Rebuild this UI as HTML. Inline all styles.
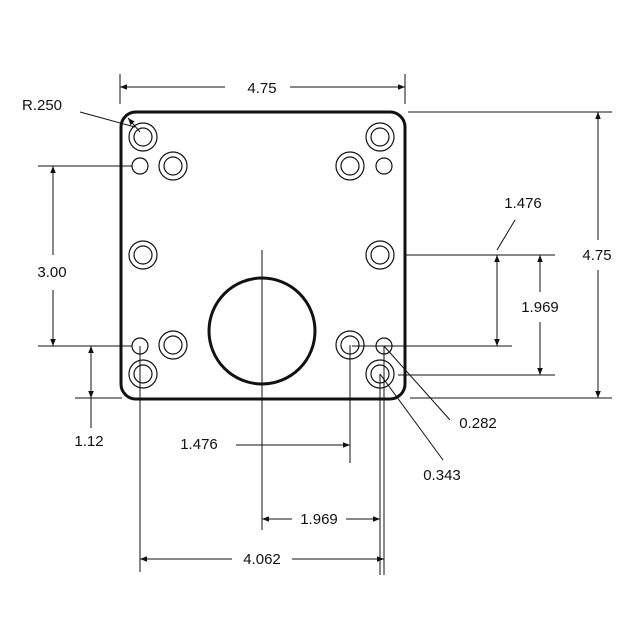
<!DOCTYPE html>
<html><head><style>body{margin:0;background:#fff}svg{display:block}text{font-family:"Liberation Sans",sans-serif;font-size:15px;fill:#111}</style></head><body>
<svg width="640" height="640" viewBox="0 0 640 640">
<defs><marker id="a" viewBox="0 0 10 10" refX="10" refY="5" markerWidth="7" markerHeight="7" orient="auto-start-reverse"><path d="M0,1 L10,5 L0,9 z" fill="#111"/></marker></defs>
<rect x="121" y="112" width="284" height="287" rx="15" fill="none" stroke="#111" stroke-width="3"/>
<g fill="none" stroke="#111" stroke-width="1.2">
<circle cx="143" cy="137" r="14"/><circle cx="143" cy="137" r="9"/>
<circle cx="380" cy="137" r="14"/><circle cx="380" cy="137" r="9"/>
<circle cx="173" cy="166" r="14"/><circle cx="173" cy="166" r="9"/>
<circle cx="350" cy="166" r="14"/><circle cx="350" cy="166" r="9"/>
<circle cx="140" cy="166" r="8"/><circle cx="384" cy="166" r="8"/>
<circle cx="143" cy="255" r="14"/><circle cx="143" cy="255" r="9"/>
<circle cx="380" cy="255" r="14"/><circle cx="380" cy="255" r="9"/>
<circle cx="173" cy="345" r="14"/><circle cx="173" cy="345" r="9"/>
<circle cx="350" cy="345" r="14"/><circle cx="350" cy="345" r="9"/>
<circle cx="140" cy="346" r="8"/><circle cx="384" cy="346" r="8"/>
<circle cx="143" cy="374" r="14"/><circle cx="143" cy="374" r="9"/>
<circle cx="380" cy="374" r="14"/><circle cx="380" cy="374" r="9"/>
</g>
<circle cx="262" cy="331" r="53" fill="none" stroke="#111" stroke-width="3"/>
<g fill="none" stroke="#111" stroke-width="1">
<line x1="120" y1="74" x2="120" y2="104"/><line x1="405" y1="74" x2="405" y2="104"/>
<line x1="120" y1="87" x2="225" y2="87" marker-start="url(#a)"/><line x1="290" y1="87" x2="405" y2="87" marker-end="url(#a)"/>
<line x1="408" y1="112" x2="612" y2="112"/><line x1="410" y1="398" x2="612" y2="398"/>
<line x1="598" y1="112" x2="598" y2="240" marker-start="url(#a)"/><line x1="598" y1="270" x2="598" y2="398" marker-end="url(#a)"/>
<line x1="405" y1="255" x2="555" y2="255"/><line x1="398" y1="375" x2="555" y2="375"/>
<line x1="540" y1="255" x2="540" y2="292" marker-start="url(#a)"/><line x1="540" y1="322" x2="540" y2="375" marker-end="url(#a)"/>
<line x1="352" y1="346" x2="512" y2="346"/>
<line x1="497" y1="255" x2="497" y2="346" marker-start="url(#a)" marker-end="url(#a)"/>
<line x1="497" y1="250" x2="515" y2="220"/>
<line x1="38" y1="166" x2="132" y2="166"/><line x1="38" y1="346" x2="132" y2="346"/>
<line x1="53" y1="166" x2="53" y2="255" marker-start="url(#a)"/><line x1="53" y1="290" x2="53" y2="346" marker-end="url(#a)"/>
<line x1="75" y1="398" x2="122" y2="398"/>
<line x1="91" y1="346" x2="91" y2="428" marker-start="url(#a)"/>
<line x1="91" y1="346" x2="91" y2="398" marker-end="url(#a)"/>
<line x1="262" y1="250" x2="262" y2="530"/>
<line x1="350" y1="345" x2="350" y2="463"/>
<line x1="236" y1="445" x2="350" y2="445" marker-end="url(#a)"/>
<line x1="262" y1="519" x2="292" y2="519" marker-start="url(#a)"/><line x1="346" y1="519" x2="380" y2="519" marker-end="url(#a)"/>
<line x1="380" y1="374" x2="380" y2="575"/><line x1="384" y1="346" x2="384" y2="575"/>
<line x1="140" y1="346" x2="140" y2="572"/>
<line x1="140" y1="559" x2="232" y2="559" marker-start="url(#a)"/><line x1="292" y1="559" x2="384" y2="559" marker-end="url(#a)"/>
<line x1="384" y1="346" x2="450" y2="420"/><line x1="380" y1="374" x2="443" y2="460"/>
<line x1="80" y1="112" x2="135" y2="127"/><line x1="128" y1="118" x2="140" y2="132" marker-start="url(#a)"/>
</g>
<text x="262" y="93" text-anchor="middle">4.75</text>
<text x="597" y="260" text-anchor="middle">4.75</text>
<text x="540" y="312" text-anchor="middle">1.969</text>
<text x="523" y="208" text-anchor="middle">1.476</text>
<text x="52" y="277" text-anchor="middle">3.00</text>
<text x="89" y="446" text-anchor="middle">1.12</text>
<text x="199" y="449" text-anchor="middle">1.476</text>
<text x="319" y="524" text-anchor="middle">1.969</text>
<text x="262" y="564" text-anchor="middle">4.062</text>
<text x="478" y="428" text-anchor="middle">0.282</text>
<text x="442" y="480" text-anchor="middle">0.343</text>
<text x="42" y="110" text-anchor="middle">R.250</text>
</svg>
</body></html>
